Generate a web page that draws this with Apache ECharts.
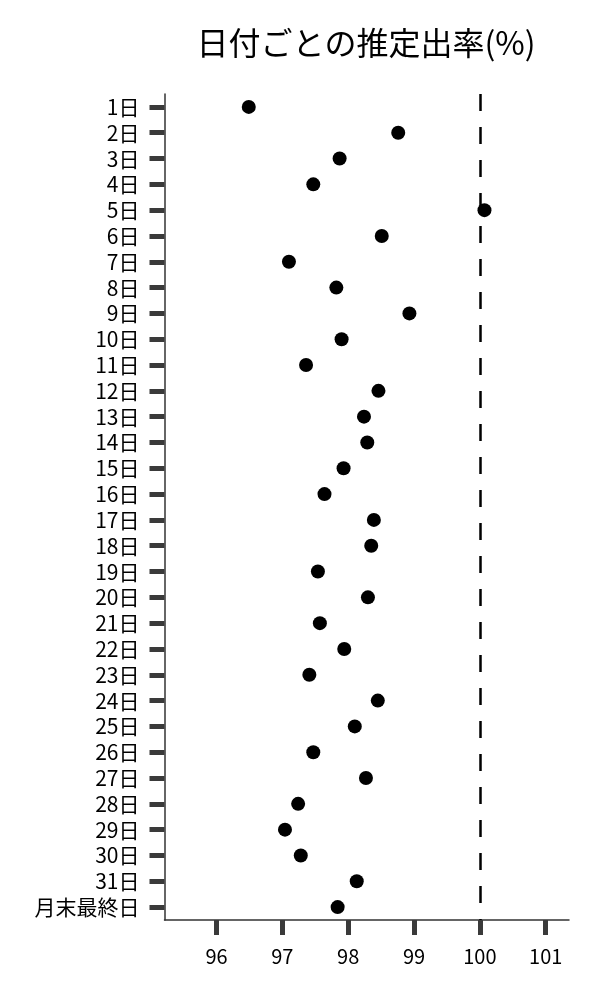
<!DOCTYPE html>
<html>
<head>
<meta charset="utf-8">
<script src="https://cdn.jsdelivr.net/npm/echarts@6/dist/echarts.min.js"></script>
<style>
html,body{margin:0;padding:0;background:#fff;}
#main{width:600px;height:1000px;}
</style>
</head>
<body>
<div id="main"></div>
<script>
const categories = ['1日','2日','3日','4日','5日','6日','7日','8日','9日','10日','11日','12日','13日','14日','15日','16日','17日','18日','19日','20日','21日','22日','23日','24日','25日','26日','27日','28日','29日','30日','31日','月末最終日'];
const rates = [96.49, 98.76, 97.87, 97.47, 100.07, 98.51, 97.10, 97.82, 98.93, 97.90, 97.36, 98.46, 98.24, 98.29, 97.93, 97.64, 98.39, 98.35, 97.54, 98.30, 97.57, 97.94, 97.41, 98.45, 98.10, 97.47, 98.27, 97.24, 97.04, 97.28, 98.13, 97.84];
const xTicks = [96, 97, 98, 99, 100, 101];
const referenceValue = 100;
const titleText = '日付ごとの推定出率(%)';

const FONT = '"Noto Sans CJK JP", "Noto Sans", sans-serif';
const chart = echarts.init(document.getElementById('main'), null, {renderer: 'canvas'});
chart.setOption({
  animation: false,
  backgroundColor: '#ffffff',
  title: {
    text: titleText,
    left: 361,
    textAlign: 'center',
    top: 22,
    textStyle: {fontFamily: FONT, fontSize: 32, fontWeight: 'normal', color: '#000'}
  },
  grid: {left: 164.5, right: 31, top: 94, bottom: 80},
  xAxis: {
    type: 'value',
    min: 95.21,
    max: 101.354,
    splitLine: {show: false},
    axisLine: {show: true, lineStyle: {color: '#333', width: 1.5}},
    axisTick: {show: true, customValues: xTicks, length: 15, lineStyle: {color: '#3a3a3a', width: 5}},
    axisLabel: {customValues: xTicks, fontFamily: FONT, fontSize: 20, color: '#000', margin: 26}
  },
  yAxis: {
    type: 'category',
    inverse: true,
    data: categories,
    axisLine: {show: true, lineStyle: {color: '#333', width: 1.5}},
    axisTick: {show: true, alignWithLabel: true, interval: 0, length: 15, lineStyle: {color: '#3a3a3a', width: 5}},
    axisLabel: {interval: 0, fontFamily: FONT, fontSize: 21, color: '#000', margin: 25},
    splitLine: {show: false}
  },
  series: [{
    type: 'scatter',
    symbol: 'circle',
    symbolSize: 14,
    itemStyle: {color: '#000', opacity: 1},
    data: categories.map((c, i) => [rates[i], c]),
    markLine: {
      silent: true,
      symbol: ['none', 'none'],
      label: {show: false},
      lineStyle: {color: '#000', width: 2.5, type: [17, 16]},
      data: [{xAxis: referenceValue}]
    }
  }]
});
</script>
</body>
</html>
